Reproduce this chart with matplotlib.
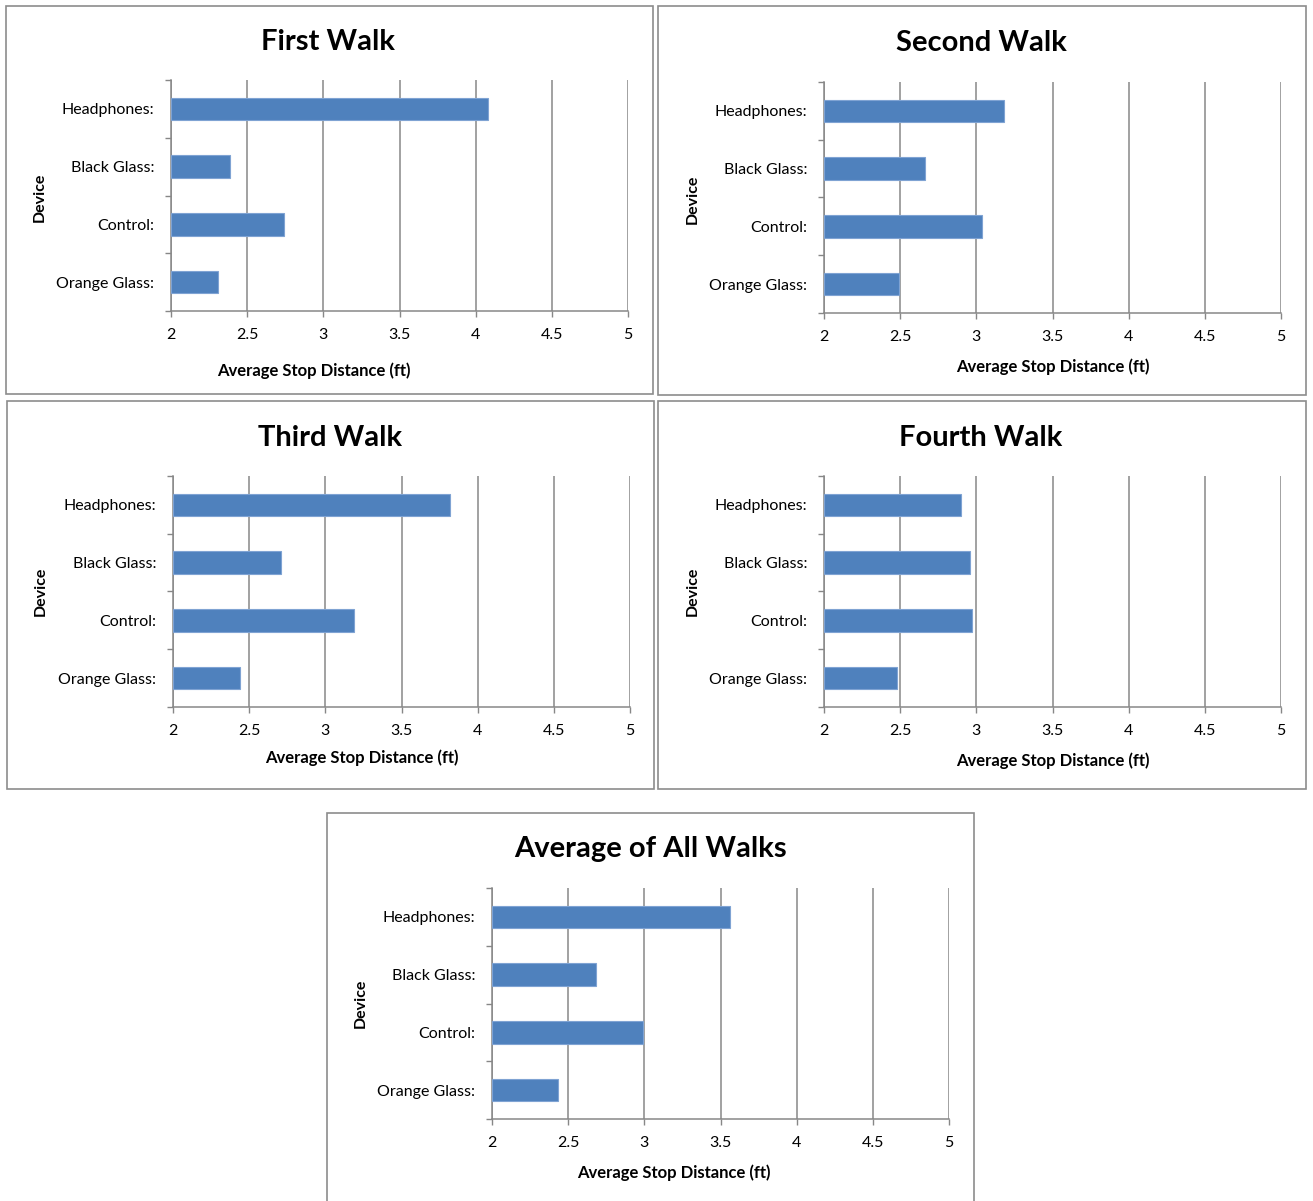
import matplotlib
matplotlib.use("Agg")
import matplotlib.pyplot as plt
from matplotlib.patches import Rectangle
import numpy as np

plt.rcParams['font.family'] = ['Lato', 'DejaVu Sans']

# Data
devices = ["Headphones:", "Black Glass:", "Control:", "Orange Glass:"]
first_walk = [4.08, 2.39, 2.74, 2.31]
second_walk = [3.18, 2.66, 3.04, 2.49]
third_walk = [3.82, 2.71, 3.19, 2.44]
fourth_walk = [2.90, 2.96, 2.97, 2.48]
all_walks = [3.56, 2.68, 2.99, 2.43]
x_ticks = [2, 2.5, 3, 3.5, 4, 4.5, 5]
x_tick_labels = ["2", "2.5", "3", "3.5", "4", "4.5", "5"]

W, H = 1313, 1201
fig = plt.figure(figsize=(W / 100, H / 100), dpi=100)
fig.patch.set_facecolor("white")

BAR = "#4F81BD"
GRID = "#878787"


def px_box(x0, y0, x1, y1):
    return [x0 / W, 1 - y1 / H, (x1 - x0) / W, (y1 - y0) / H]


def frame(x0, y0, x1, y1):
    fig.patches.append(Rectangle((x0 / W, 1 - y1 / H), (x1 - x0) / W, (y1 - y0) / H,
                                 transform=fig.transFigure, fill=False,
                                 edgecolor="#8c8c8c", linewidth=1.2))


def panel(title, values, frame_box, axes_box, title_xy, xlabel_pos, ylabel_pos):
    frame(*frame_box)
    fig.text(title_xy[0] / W, 1 - title_xy[1] / H, title, ha="center", va="center",
             fontsize=21, fontweight="bold", color="black")
    ax = fig.add_axes(px_box(*axes_box))
    y = np.arange(len(devices))
    ax.barh(y, np.array(values) - 2, left=2, height=0.39, color=BAR,
            edgecolor="#7FA3D3", linewidth=0.8, zorder=3)
    ax.set_xlim(2, 5)
    ax.set_ylim(len(devices) - 0.5, -0.5)
    ax.set_xticks(x_ticks)
    ax.set_xticklabels(x_tick_labels, fontsize=11.5)
    ax.set_yticks(y)
    ax.set_yticklabels(devices, fontsize=11.5)
    ax.set_yticks(np.arange(-0.5, len(devices)), minor=True)
    ax.tick_params(axis="y", which="major", length=0, pad=12)
    ax.tick_params(axis="y", which="minor", length=4.5, color=GRID, width=1)
    ax.tick_params(axis="x", which="major", length=4, color=GRID, width=1, pad=8.5)
    ax.grid(axis="x", color=GRID, linewidth=1.1, zorder=0)
    for s in ["top", "right"]:
        ax.spines[s].set_visible(False)
    for s in ["left", "bottom"]:
        ax.spines[s].set_color(GRID)
        ax.spines[s].set_linewidth(1.1)
    ax.set_xlabel("Average Stop Distance (ft)", fontsize=12, fontweight="bold")
    ax.xaxis.set_label_coords(*xlabel_pos)
    ax.set_ylabel("Device", fontsize=11.5, fontweight="bold")
    ax.yaxis.set_label_coords(*ylabel_pos)
    return ax


panel("First Walk", first_walk, (6, 6, 653, 394), (171, 80, 628, 311),
      (328, 42), (0.313, -0.221), (-0.272, 0.49))
panel("Second Walk", second_walk, (658, 6, 1306, 395), (824, 82, 1281, 313),
      (981, 43), (0.501, -0.195), (-0.272, 0.49))
panel("Third Walk", third_walk, (7, 401, 654, 789), (173, 476, 630, 707),
      (330, 438), (0.414, -0.182), (-0.274, 0.50))
panel("Fourth Walk", fourth_walk, (658, 401, 1306, 789), (824, 476, 1281, 707),
      (981, 438), (0.501, -0.195), (-0.272, 0.50))
panel("Average of All Walks", all_walks, (327, 813, 974, 1205), (492, 888, 949, 1119),
      (650, 849), (0.398, -0.195), (-0.272, 0.50))

fig.savefig("out.png", dpi=100, facecolor="white")
